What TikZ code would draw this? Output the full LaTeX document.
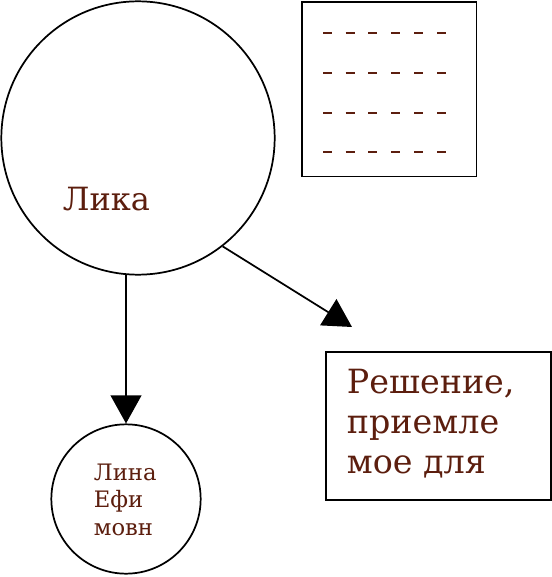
\documentclass[tikz,border=0pt]{standalone}
\usepackage{fontspec}
\setmainfont{DejaVu Serif}
\usetikzlibrary{arrows.meta}
\definecolor{txtbrown}{RGB}{92,30,14}
\begin{document}
\begin{tikzpicture}[x=0.75pt,y=-0.75pt,line width=1.3pt,>={Triangle[length=21pt,width=23pt]},
        lbl/.style={text=txtbrown,anchor=base west,inner sep=0pt,align=left}]
        \useasboundingbox (0,0) rectangle (552,577);
        \node[draw,circle,inner sep=0pt,minimum size=205pt] (lika) at (138,138) {};
        \node[draw,circle,inner sep=0pt,minimum size=112pt] (lina) at (126,499) {};
        \node[draw,rectangle,inner sep=0pt,minimum width=131pt,minimum height=131pt,anchor=north west] (plan) at (301,1) {};
        \node[draw,rectangle,inner sep=0pt,minimum width=169pt,minimum height=111pt,anchor=north west] (resh) at (325,351) {};
        \foreach \y in {33,73,113,152}
          \foreach \x in {323,345.5,368,391,414,437}
            \draw[txtbrown,line width=2pt] (\x,\y)--++(9,0);
        % base anchor of a multi-line node = last line
        \node[lbl,font=\fontsize{24}{28}\selectfont] (likat) at (62,210) {Лика};
        \node[lbl,font=\fontsize{25}{30}\selectfont] (resht) at (346,473) {Решение,\\приемле\\мое для};
        \node[lbl,font=\fontsize{17}{20.6}\selectfont] (linat) at (93,535) {Лина\\Ефи\\мовн};
        \coordinate (tip) at (352,327);
        \draw[->] (lika.-52)--(tip);
        \draw[->] (lika.-95)--(lina.north);
        \end{tikzpicture}
\end{document}
